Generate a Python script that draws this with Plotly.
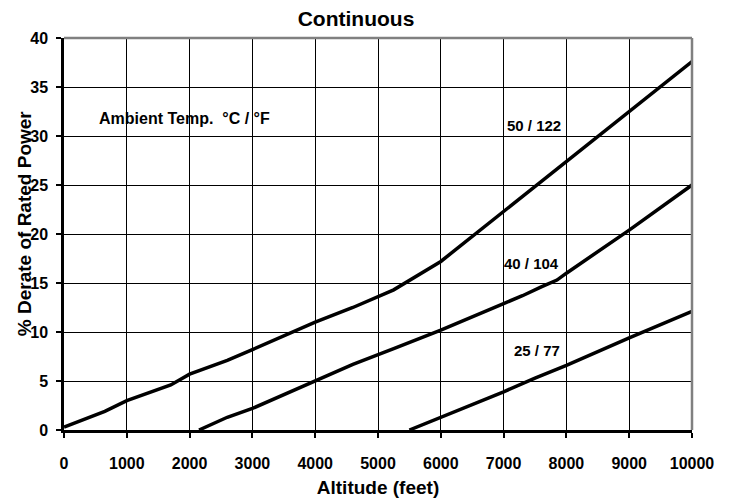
import plotly.graph_objects as go

# Altitude (feet) and % derate for each ambient temperature curve
alt_50 = [0, 650, 1000, 1700, 2000, 2600, 3000, 4000, 4600, 5250, 6000, 7000, 8000, 9000, 10000]
der_50 = [0.3, 1.9, 3.0, 4.6, 5.7, 7.1, 8.2, 11.0, 12.5, 14.3, 17.2, 22.3, 27.4, 32.6, 37.6]

alt_40 = [2150, 2600, 3000, 4000, 4600, 5250, 6000, 7000, 7300, 7600, 7850, 8000, 9000, 10000]
der_40 = [0.0, 1.3, 2.2, 5.0, 6.7, 8.3, 10.2, 12.9, 13.7, 14.6, 15.3, 16.0, 20.4, 25.0]

alt_25 = [5500, 6000, 7000, 7500, 8000, 9000, 10000]
der_25 = [0.0, 1.3, 3.9, 5.3, 6.6, 9.4, 12.1]

curve_labels = ["50 / 122", "40 / 104", "25 / 77"]
label_x = [7485, 7443, 7527]
label_y = [31.1, 17.0, 8.1]

x_ticks = [0, 1000, 2000, 3000, 4000, 5000, 6000, 7000, 8000, 9000, 10000]
y_ticks = [0, 5, 10, 15, 20, 25, 30, 35, 40]

FONT = "Liberation Sans, Arial, sans-serif"

fig = go.Figure()
for xs, ys in [(alt_50, der_50), (alt_40, der_40), (alt_25, der_25)]:
    fig.add_trace(go.Scatter(x=xs, y=ys, mode="lines",
                             line=dict(color="black", width=3.5),
                             showlegend=False, hoverinfo="skip", cliponaxis=False))

for t, x, y in zip(curve_labels, label_x, label_y):
    fig.add_annotation(x=x, y=y, text=t, showarrow=False,
                       font=dict(family=FONT, size=15, color="black", weight="bold"))

fig.add_annotation(x=526, y=31.8, xanchor="left", text="Ambient Temp.\u00a0\u00a0°C / °F",
                   showarrow=False,
                   font=dict(family=FONT, size=16, color="black", weight="bold"))

fig.add_annotation(xref="paper", yref="paper", x=-0.0625, y=0.527, textangle=-90,
                   text="% Derate of Rated Power", showarrow=False,
                   xanchor="center", yanchor="middle",
                   font=dict(family=FONT, size=19, color="black", weight="bold"))

# gray top/right border
fig.add_shape(type="line", xref="paper", yref="paper", x0=0, x1=1, y0=1, y1=1,
              line=dict(color="#808080", width=2.5), layer="above")
fig.add_shape(type="line", xref="paper", yref="paper", x0=1, x1=1, y0=0, y1=1,
              line=dict(color="#808080", width=2.5), layer="above")

fig.update_layout(
    width=734, height=502,
    margin=dict(l=56, r=50, t=30, b=80, autoexpand=False),
    paper_bgcolor="white", plot_bgcolor="white",
    title=dict(text="Continuous", x=348 / 734, xref="container", xanchor="center",
               y=1 - 11 / 502, yref="container", yanchor="middle",
               font=dict(family=FONT, size=21, color="black", weight="bold")),
    xaxis=dict(range=[0, 10000], tickvals=x_ticks, ticktext=[str(v) for v in x_ticks],
               automargin=False,
               showgrid=True, gridcolor="black", gridwidth=1,
               showline=True, linecolor="black", linewidth=2.5,
               ticks="outside", ticklen=5, tickwidth=2, tickcolor="black",
               ticklabelstandoff=12, zeroline=False,
               tickfont=dict(family=FONT, size=16, color="black", weight="bold"),
               title=dict(text="Altitude (feet)", standoff=10,
                          font=dict(family=FONT, size=19, color="black", weight="bold"))),
    yaxis=dict(range=[0, 40], tickvals=y_ticks, ticktext=[str(v) for v in y_ticks],
               automargin=False,
               showgrid=True, gridcolor="black", gridwidth=1,
               showline=True, linecolor="black", linewidth=2.5,
               ticks="outside", ticklen=5, tickwidth=2, tickcolor="black",
               ticklabelstandoff=5, zeroline=False,
               tickfont=dict(family=FONT, size=16, color="black", weight="bold")),
)

fig.write_html("out.html")
